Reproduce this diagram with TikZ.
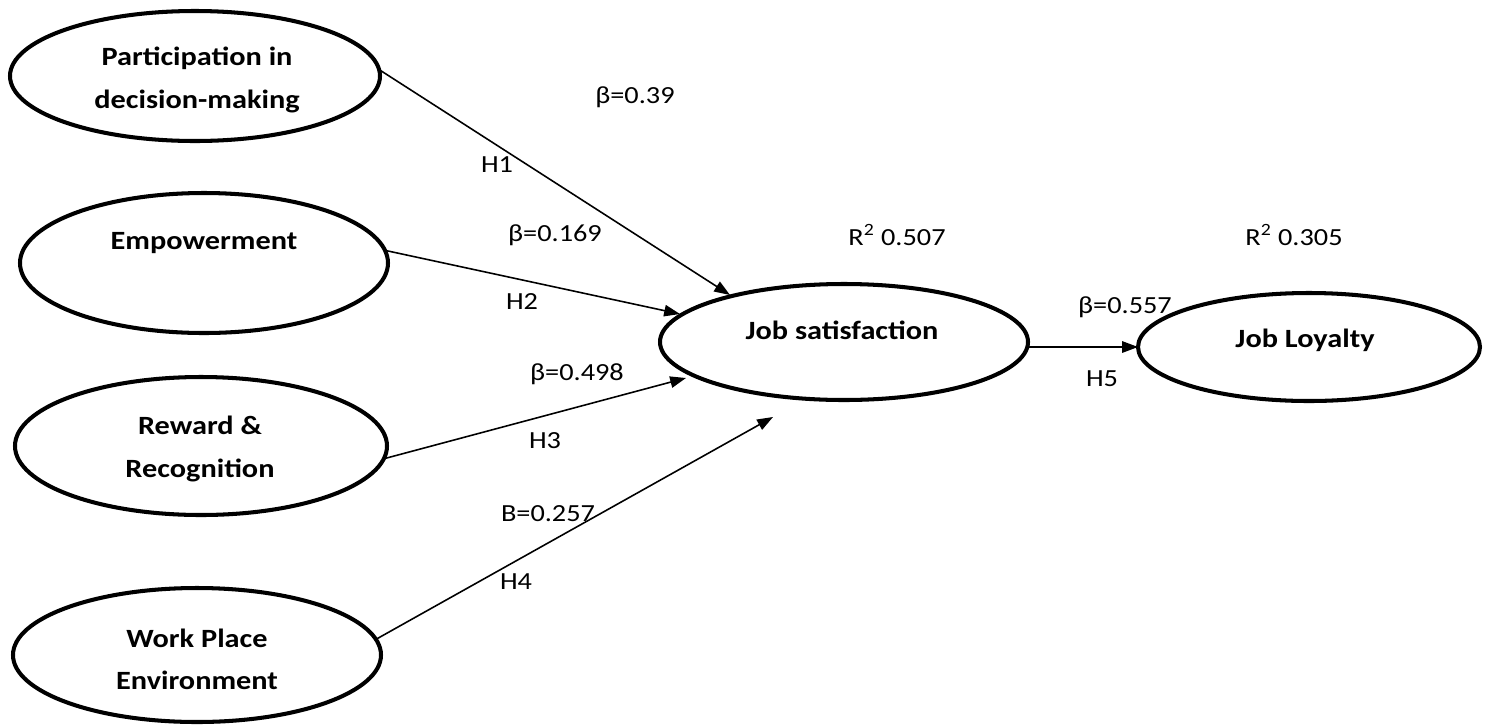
\documentclass[tikz,border=0pt]{standalone}
\usepackage{fontspec}
\setmainfont[FakeStretch=1.15]{Carlito}
\usetikzlibrary{shapes.geometric,arrows.meta}
\tikzset{
  ell/.style={ellipse, draw=black, line width=2.3pt, inner sep=0pt, outer sep=0pt, fill=white},
  ntext/.style={font=\fontsize{15}{24}\selectfont\bfseries, align=center, inner sep=0pt},
  lbl/.style={font=\fontsize{14}{16}\selectfont, inner sep=0pt},
  conn/.style={line width=0.9pt, -{Triangle[length=9pt,width=6.5pt]}}
}
\begin{document}
\begin{tikzpicture}[x=0.02cm,y=-0.02cm]
\useasboundingbox (0,0) rectangle (1487,724);
% ellipses
\node[ell, minimum width=370*0.02cm, minimum height=130*0.02cm] (pdm) at (195,76) {};
\node[ell, minimum width=368*0.02cm, minimum height=140*0.02cm] (emp) at (204,263) {};
\node[ell, minimum width=372*0.02cm, minimum height=138*0.02cm] (rr) at (201,446) {};
\node[ell, minimum width=368*0.02cm, minimum height=134*0.02cm] (wpe) at (197,655) {};
\node[ell, minimum width=368*0.02cm, minimum height=116*0.02cm] (js) at (844,342) {};
\node[ell, minimum width=342*0.02cm, minimum height=108*0.02cm] (jl) at (1309,347) {};
% ellipse texts
\node[ntext] (tpdm) at (197,80) {Participation in\\decision-making};
\node[ntext] (temp) at (204,243) {Empowerment};
\node[ntext] (trr) at (200,449) {Reward \&\\Recognition};
\node[ntext] (twpe) at (197,659) {Work Place\\Environment};
\node[ntext] (tjs) at (842,330) {Job satisfaction};
\node[ntext] (tjl) at (1305,340) {Job Loyalty};
% arrow tips
\coordinate (t1) at (730,295);
\coordinate (t2) at (680,314);
\coordinate (t3) at (686,378);
\coordinate (t4) at (773,417);
% connectors
\draw[conn] (pdm.2) -- (t1);
\draw[conn] (emp.4) -- (t2);
\draw[conn] (rr.-4) -- (t3);
\draw[conn] (wpe.5) -- (t4);
\draw[conn] (jl.west -| js.east) -- (jl.west);
% labels
\node[lbl] (b1) at (635,97) {β=0.39};
\node[lbl] (h1) at (497,165) {H1};
\node[lbl] (b2) at (555,235) {β=0.169};
\node[lbl] (h2) at (522,302) {H2};
\node[lbl] (b3) at (577,374) {β=0.498};
\node[lbl] (h3) at (545,441) {H3};
\node[lbl] (b4) at (548,514) {B=0.257};
\node[lbl] (h4) at (516,582) {H4};
\node[lbl] (r1) at (897,235) {R\textsuperscript{2} 0.507};
\node[lbl] (r2) at (1294,235) {R\textsuperscript{2} 0.305};
\node[lbl] (b5) at (1125,307) {β=0.557};
\node[lbl] (h5) at (1102,379) {H5};
\end{tikzpicture}
\end{document}
